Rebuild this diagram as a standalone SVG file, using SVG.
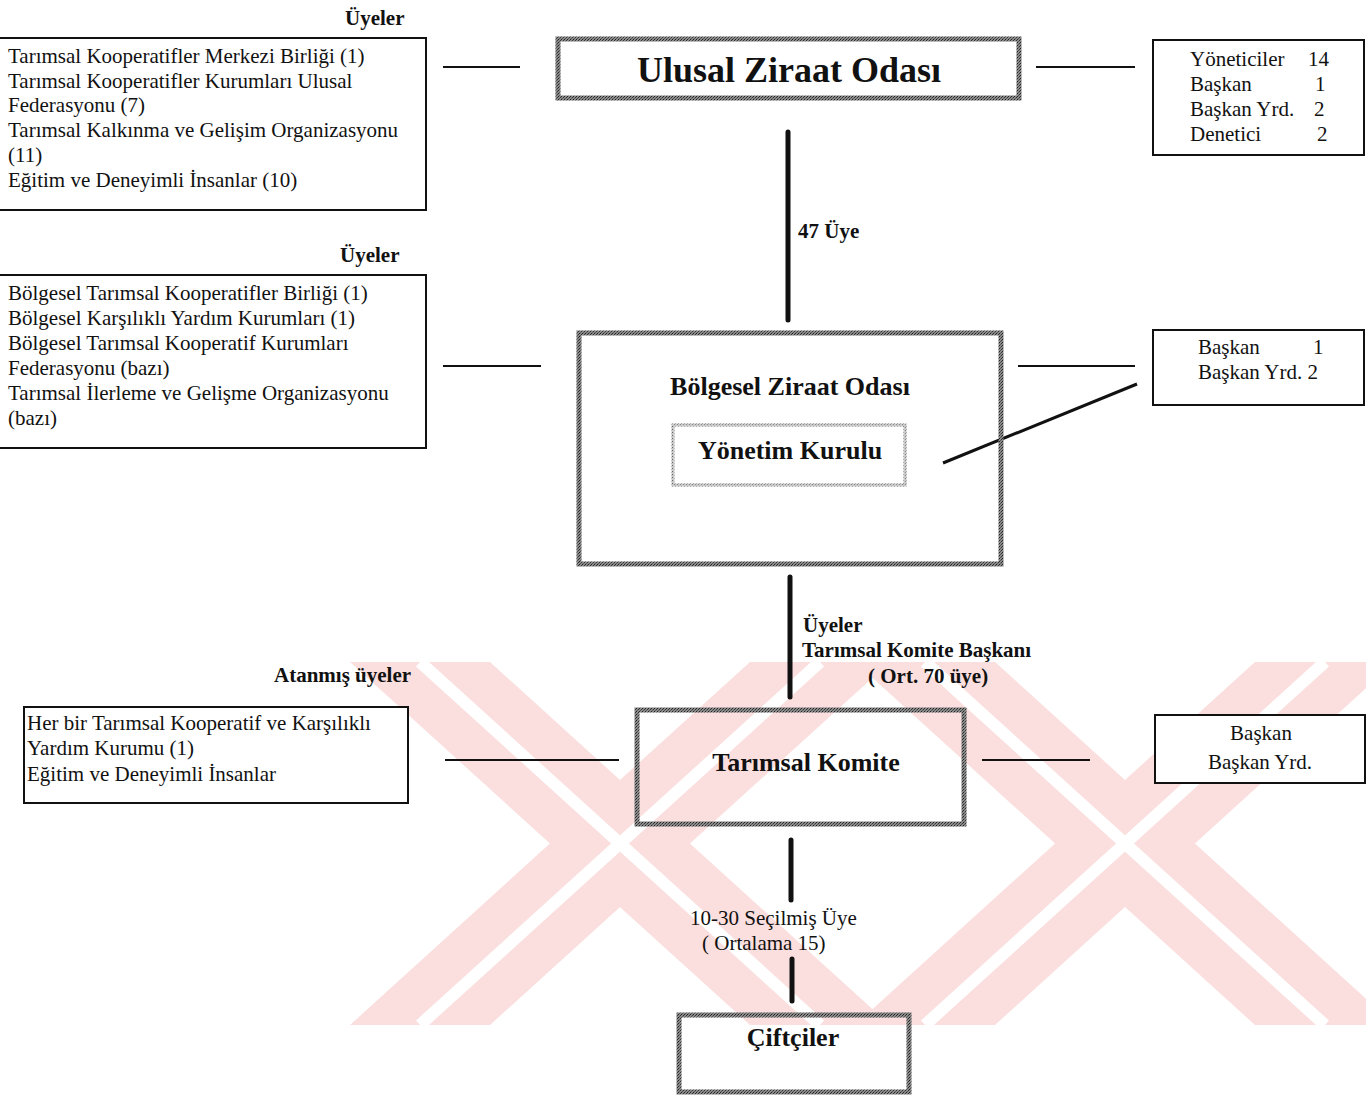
<svg xmlns="http://www.w3.org/2000/svg" width="1366" height="1095" viewBox="0 0 1366 1095">
<defs>
<pattern id="grain" width="3" height="3" patternUnits="userSpaceOnUse">
<rect width="3" height="3" fill="#8a8a8a"/>
<rect width="1" height="1" fill="#222"/>
<rect x="2" y="1" width="1" height="1" fill="#333"/>
<rect x="1" y="2" width="1" height="1" fill="#555"/>
</pattern>
<pattern id="grainLight" width="3" height="3" patternUnits="userSpaceOnUse">
<rect width="3" height="3" fill="#c8c8c8"/>
<rect width="1" height="1" fill="#666"/>
<rect x="2" y="1" width="1" height="1" fill="#888"/>
</pattern>
</defs>
<style>
text{font-family:"Liberation Serif","Times New Roman",serif;fill:#111}
.r{font-size:21px}
.b{font-size:21px;font-weight:bold}
.t{font-size:26px;font-weight:bold}
.plain{fill:#fff;stroke:#111;stroke-width:2}
.grey{fill:none;stroke:url(#grain);stroke-width:5}
.greyl{fill:none;stroke:url(#grainLight);stroke-width:3}
.thin{stroke:#111;stroke-width:2;fill:none}
.thick{stroke:#111;stroke-width:5;fill:none;stroke-linecap:round}
.wm{fill:#fbdede}
.wmw{stroke:#fff;stroke-width:12;fill:none}
</style>
<rect width="1366" height="1095" fill="#fff"/>

<g id="watermark">
<polygon class="wm" points="350,662 490,662 890,1025 750,1025"/>
<polygon class="wm" points="350,1025 490,1025 890,662 750,662"/>
<polygon class="wm" points="855,662 995,662 1395,1025 1255,1025"/>
<polygon class="wm" points="855,1025 995,1025 1395,662 1255,662"/>
<line class="wmw" x1="420" y1="662" x2="820" y2="1025"/>
<line class="wmw" x1="420" y1="1025" x2="820" y2="662"/>
<line class="wmw" x1="925" y1="662" x2="1325" y2="1025"/>
<line class="wmw" x1="925" y1="1025" x2="1325" y2="662"/>
</g>

<g id="connectors">
<line class="thin" x1="443" y1="67" x2="520" y2="67"/>
<line class="thin" x1="1036" y1="67" x2="1135" y2="67"/>
<line class="thick" x1="788" y1="132" x2="788" y2="320"/>
<line class="thin" x1="443" y1="366" x2="541" y2="366"/>
<line class="thin" x1="1018" y1="366" x2="1135" y2="366"/>
<line x1="943" y1="463" x2="1137" y2="384" stroke="#111" stroke-width="3"/>
<line class="thick" x1="790" y1="577" x2="790" y2="697"/>
<line class="thin" x1="445" y1="760" x2="619" y2="760"/>
<line class="thin" x1="982" y1="760" x2="1090" y2="760"/>
<line class="thick" x1="791" y1="840" x2="791" y2="900"/>
<line class="thick" x1="792" y1="959" x2="792" y2="1001"/>
</g>

<g id="labels">
<text class="b" x="798" y="238">47 Üye</text>
<text class="b" x="803" y="632">Üyeler</text>
<text class="b" x="802" y="657">Tarımsal Komite Başkanı</text>
<text class="b" x="868" y="683">( Ort. 70 üye)</text>
<text class="r" x="690" y="925">10-30 Seçilmiş Üye</text>
<text class="r" x="702" y="950">( Ortalama 15)</text>
</g>

<g id="uyeler1">
<text class="b" x="345" y="25">Üyeler</text>
<rect class="plain" x="-2" y="38" width="428" height="172"/>
<text class="r" x="8" y="63">Tarımsal Kooperatifler Merkezi Birliği (1)</text>
<text class="r" x="8" y="88">Tarımsal Kooperatifler Kurumları Ulusal</text>
<text class="r" x="8" y="112">Federasyonu (7)</text>
<text class="r" x="8" y="137">Tarımsal Kalkınma ve Gelişim Organizasyonu</text>
<text class="r" x="8" y="162">(11)</text>
<text class="r" x="8" y="187">Eğitim ve Deneyimli İnsanlar (10)</text>
</g>

<g id="ulusal">
<rect class="grey" x="558" y="39" width="461" height="59"/>
<text x="789" y="82" text-anchor="middle" style="font-size:36px;font-weight:bold">Ulusal Ziraat Odası</text>
</g>

<g id="yoneticiler">
<rect class="plain" x="1153" y="40" width="211" height="115"/>
<text class="r" x="1190" y="66">Yöneticiler</text><text class="r" x="1308" y="66">14</text>
<text class="r" x="1190" y="91">Başkan</text><text class="r" x="1315" y="91">1</text>
<text class="r" x="1190" y="116">Başkan Yrd.</text><text class="r" x="1314" y="116">2</text>
<text class="r" x="1190" y="141">Denetici</text><text class="r" x="1317" y="141">2</text>
</g>

<g id="uyeler2">
<text class="b" x="340" y="262">Üyeler</text>
<rect class="plain" x="-2" y="275" width="428" height="173"/>
<text class="r" x="8" y="300">Bölgesel Tarımsal Kooperatifler Birliği (1)</text>
<text class="r" x="8" y="325">Bölgesel Karşılıklı Yardım Kurumları (1)</text>
<text class="r" x="8" y="350">Bölgesel Tarımsal Kooperatif Kurumları</text>
<text class="r" x="8" y="375">Federasyonu (bazı)</text>
<text class="r" x="8" y="400">Tarımsal İlerleme ve Gelişme Organizasyonu</text>
<text class="r" x="8" y="425">(bazı)</text>
</g>

<g id="bolgesel">
<rect class="grey" x="579" y="333" width="422" height="231"/>
<text class="t" x="790" y="395" text-anchor="middle">Bölgesel Ziraat Odası</text>
</g>

<g id="yonetim">
<rect class="greyl" x="673" y="425" width="232" height="60"/>
<text class="t" x="790" y="459" text-anchor="middle">Yönetim Kurulu</text>
</g>

<g id="baskan2">
<rect class="plain" x="1153" y="330" width="211" height="75"/>
<text class="r" x="1198" y="354">Başkan</text><text class="r" x="1313" y="354">1</text>
<text class="r" x="1198" y="379">Başkan Yrd. 2</text>
</g>

<g id="atanmis">
<text class="b" x="274" y="682">Atanmış üyeler</text>
<rect class="plain" x="24" y="707" width="384" height="96"/>
<text class="r" x="27" y="730">Her bir Tarımsal Kooperatif ve Karşılıklı</text>
<text class="r" x="27" y="755">Yardım Kurumu (1)</text>
<text class="r" x="27" y="781">Eğitim ve Deneyimli İnsanlar</text>
</g>

<g id="komite">
<rect class="grey" x="637" y="710" width="327" height="114"/>
<text class="t" x="806" y="771" text-anchor="middle">Tarımsal Komite</text>
</g>

<g id="baskan3">
<rect class="plain" x="1155" y="715" width="210" height="68"/>
<text class="r" x="1261" y="740" text-anchor="middle">Başkan</text>
<text class="r" x="1260" y="769" text-anchor="middle">Başkan Yrd.</text>
</g>

<g id="ciftciler">
<rect class="grey" x="679" y="1015" width="230" height="77"/>
<text class="t" x="793" y="1046" text-anchor="middle">Çiftçiler</text>
</g>
</svg>
